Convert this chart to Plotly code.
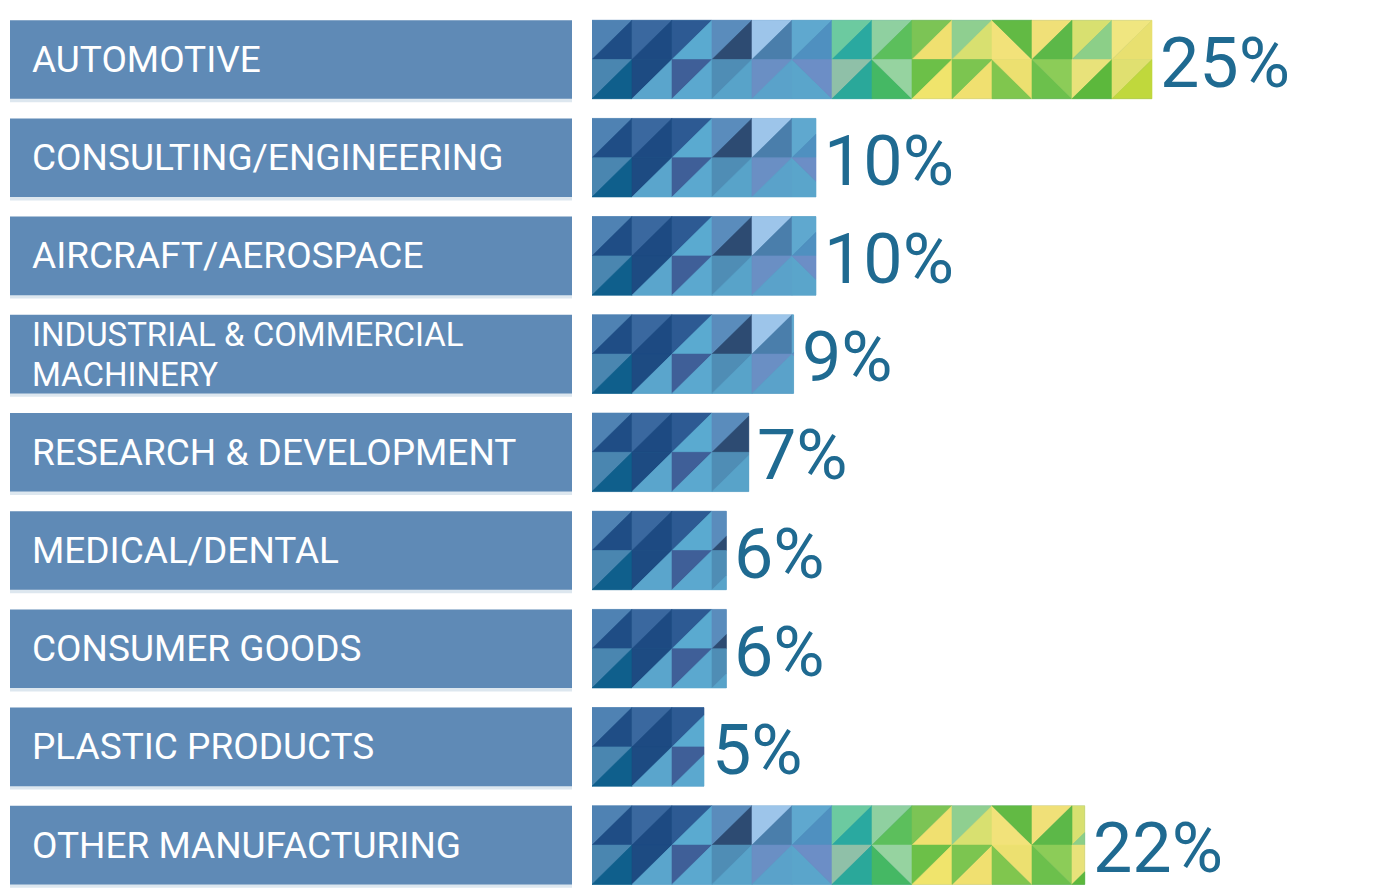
import plotly.graph_objects as go

# data
categories = [
    "AUTOMOTIVE",
    "CONSULTING/ENGINEERING",
    "AIRCRAFT/AEROSPACE",
    "INDUSTRIAL & COMMERCIAL\nMACHINERY",
    "RESEARCH & DEVELOPMENT",
    "MEDICAL/DENTAL",
    "CONSUMER GOODS",
    "PLASTIC PRODUCTS",
    "OTHER MANUFACTURING",
]
shares = [25, 10, 10, 9, 7, 6, 6, 5, 22]
share_labels = ["25%", "10%", "10%", "9%", "7%", "6%", "6%", "5%", "22%"]

# mosaic tile look (style only): per column, top cell then bottom cell
# (diagonal, left triangle colour, right triangle colour)
TILES = [
    ("/", "#4f82b3", "#1f4d85", "/", "#4a86b0", "#0f5f8c"),
    ("/", "#3a689f", "#1d4a82", "/", "#1d4b82", "#5aa5cc"),
    ("/", "#2d5a93", "#5aaad0", "/", "#3f5f98", "#5ba8cf"),
    ("/", "#5a8cbc", "#2d4b72", "/", "#4f8db5", "#58a3c9"),
    ("/", "#9dc5ea", "#4a7eab", "/", "#6a8fc4", "#5aa2ca"),
    ("/", "#5fa8cf", "#4f90c0", "\\", "#5aa5cb", "#6c8ec6"),
    ("/", "#6ccaa0", "#2aa9a0", "/", "#8fc0a8", "#2aa89a"),
    ("/", "#8fd0a0", "#5cbf5c", "\\", "#45b864", "#96d3a0"),
    ("/", "#7cc455", "#f0e070", "/", "#6cc048", "#f0e46c"),
    ("/", "#8fcf90", "#d8e070", "/", "#7cc550", "#f0e070"),
    ("\\", "#f2e27a", "#62ba44", "\\", "#80c64e", "#ece070"),
    ("/", "#f0e078", "#5cb848", "\\", "#6cc04c", "#8ccc58"),
    ("/", "#d8e070", "#8ccf88", "/", "#e8e27a", "#5cb83c"),
    ("/", "#f0e680", "#e8e070", "/", "#e0e070", "#c0d83c"),
]
TILE_W = 25 / 14   # width of one mosaic column in percent units
HALF = 0.4         # half bar thickness in row units

W, H = 1400, 893
X0_PX, PX_PER_PCT = 592, 22.4
ROW0_PX, ROW_PX = 59.5, 98.2


def clip(poly, xmax):
    # keep the part of a polygon left of x = xmax
    out = []
    n = len(poly)
    for k in range(n):
        (ax, ay), (bx, by) = poly[k], poly[(k + 1) % n]
        a_in, b_in = ax <= xmax, bx <= xmax
        if a_in:
            out.append((ax, ay))
        if a_in != b_in:
            t = (xmax - ax) / (bx - ax)
            out.append((xmax, ay + t * (by - ay)))
    return out


def cell(x0, x1, yt, yb, diag):
    if diag == "/":
        return [(x0, yt), (x1, yt), (x0, yb)], [(x1, yt), (x1, yb), (x0, yb)]
    return [(x0, yt), (x1, yb), (x0, yb)], [(x0, yt), (x1, yt), (x1, yb)]


rows = list(range(len(categories)))
fig = go.Figure()

# plain bar underneath the mosaic
fig.add_trace(go.Bar(
    x=shares, y=rows, orientation="h", width=2 * HALF,
    marker=dict(color="#4a86b0", line=dict(width=0)),
    hoverinfo="skip", showlegend=False,
))

polys = {}
for i, v in zip(rows, shares):
    for c, (td, ta, tb, bd, ba, bb) in enumerate(TILES):
        x0, x1 = c * TILE_W, (c + 1) * TILE_W
        if x0 >= v:
            break
        for (d, ca, cb, yt, yb) in [(td, ta, tb, i - HALF, i), (bd, ba, bb, i, i + HALF)]:
            pa, pb = cell(x0, x1, yt, yb, d)
            for p, col in ((pa, ca), (pb, cb)):
                p = clip(p, v)
                if len(p) >= 3:
                    polys.setdefault(col, []).append(p)

for col, plist in polys.items():
    xs, ys = [], []
    for p in plist:
        xs += [q[0] for q in p] + [p[0][0], None]
        ys += [q[1] for q in p] + [p[0][1], None]
    fig.add_trace(go.Scatter(
        x=xs, y=ys, mode="lines", fill="toself", fillcolor=col,
        line=dict(color=col, width=0.6), hoverinfo="skip", showlegend=False,
    ))

# percentage labels
for i, v, lab in zip(rows, shares, share_labels):
    fig.add_annotation(
        x=v, y=i, xref="x", yref="y", xanchor="left", yanchor="middle",
        xshift=6, yshift=-3, text=lab, showarrow=False,
        font=dict(family="Roboto", size=70, color="#1f6a91"),
    )

# label boxes
for i, name in zip(rows, categories):
    fig.add_shape(type="rect", xref="paper", yref="y",
                  x0=10 / W, x1=572 / W, y0=i - HALF + 0.035, y1=i + HALF + 0.035,
                  fillcolor="#dde7ef", line=dict(width=0), layer="below")
    fig.add_shape(type="rect", xref="paper", yref="y",
                  x0=10 / W, x1=572 / W, y0=i - HALF, y1=i + HALF,
                  fillcolor="#5f8ab6", line=dict(width=0), layer="below")
    lines = name.split("\n")
    two = len(lines) > 1
    for k, line in enumerate(lines):
        shift = (len(lines) - 1) * 20 - 40 * k
        fig.add_annotation(
            x=30 / W, xref="paper", y=i, yref="y", yshift=shift,
            text=line, showarrow=False, xanchor="left", yanchor="middle",
            font=dict(family="Roboto", size=33 if two else 37, color="white"),
        )

fig.update_layout(
    width=W, height=H,
    margin=dict(l=0, r=0, t=0, b=0),
    plot_bgcolor="white", paper_bgcolor="white",
    xaxis=dict(domain=[X0_PX / W, 1], range=[0, (W - X0_PX) / PX_PER_PCT],
               visible=False, fixedrange=True),
    yaxis=dict(range=[(H - ROW0_PX) / ROW_PX, -ROW0_PX / ROW_PX],
               visible=False, fixedrange=True),
    showlegend=False,
)

fig.write_html("out.html", config={"displayModeBar": False},
               post_script="document.body.style.margin='0';")
